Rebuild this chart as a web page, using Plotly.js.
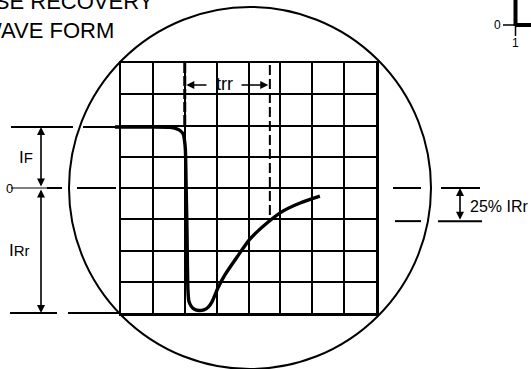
<!DOCTYPE html>
<html>
<head>
<meta charset="utf-8">
<script src="https://cdn.plot.ly/plotly-3.0.1.min.js"></script>
<style>html,body{margin:0;padding:0;background:#fff}#chart{width:531px;height:369px}</style>
</head>
<body>
<div id="chart"></div>
<script>
// ---- data (time and current in screen divisions) ----
const waveT = [-0.19, 0.91, 1.54, 1.73, 1.85, 1.95, 1.99, 2.02, 2.04, 2.07, 2.10, 2.13, 2.20, 2.29, 2.45, 2.60, 2.73, 2.85, 3.04, 3.26, 3.64, 4.05, 4.58, 5.08, 5.62, 6.24];
const waveI = [1.95, 1.95, 1.94, 1.90, 1.84, 1.73, 1.54, 1.22, 0.26, -1.34, -3.26, -3.62, -3.78, -3.87, -3.92, -3.90, -3.82, -3.65, -3.20, -2.78, -2.21, -1.63, -1.12, -0.74, -0.48, -0.26];
const levelIF = 1.95;      // forward current level
const levelIRr = -4.0;     // peak reverse current level
const level25 = -1.06;     // 25% IRr level
const trrStart = 2.0;
const trrEnd = 4.67;
const titleLines = ["REVERSE RECOVERY", "WAVE FORM"];
const labelIF = "I<span style='font-size:15px'>F</span>";
const labelIRr = "I<span style='font-size:15px'>Rr</span>";
const label25 = "25% IRr";
const labelTrr = "trr";

// ---- layout helpers (pixel -> division units) ----
const W = 531, H = 369;
const GX0 = 121, GX1 = 376, GY0 = 63, GY1 = 313;
const sx = (GX1 - GX0) / 8, sy = (GY1 - GY0) / 8;
const Y0PIX = GY0 + 4 * sy;
const X = p => (p - GX0) / sx;
const Y = q => (Y0PIX - q) / sy;

const FONT = "Liberation Sans, Arial, Helvetica, sans-serif";
const black = "#000";

const traces = [
  { x: [trrEnd, trrEnd], y: [Y(65), level25 + 0.1], xaxis: "x", yaxis: "y", mode: "lines",
    line: { color: black, width: 2, dash: "10px,4px" }, hoverinfo: "skip", showlegend: false },
  { x: [trrStart, trrStart], y: [4, levelIF], xaxis: "x", yaxis: "y", mode: "lines",
    line: { color: black, width: 3, dash: "10px,3px" }, hoverinfo: "skip", showlegend: false },
  { x: waveT, y: waveI, xaxis: "x2", yaxis: "y2", mode: "lines",
    line: { color: black, width: 3.4, shape: "spline", smoothing: 0.7 }, hoverinfo: "skip", showlegend: false }
];

function hline(y, p0, p1, w) {
  return { type: "line", xref: "x2", yref: "y2", x0: X(p0), x1: X(p1), y0: y, y1: y,
           line: { color: black, width: w || 2 } };
}
function vline(x, q0, q1, w) {
  return { type: "line", xref: "x2", yref: "y2", x0: x, x1: x, y0: Y(q0), y1: Y(q1),
           line: { color: black, width: w || 2 } };
}

const shapes = [
  { type: "circle", xref: "x2", yref: "y2", x0: X(250 - 181), x1: X(250 + 181), y0: Y(188 + 181), y1: Y(188 - 181),
    line: { color: black, width: 2 } },
  hline(levelIF, 11, 73), hline(levelIF, 83, 116),
  hline(0, 11, 47, 1.2), hline(0, 47, 62), hline(0, 77, 116),
  hline(levelIRr, 10, 57), hline(levelIRr, 68, 121),
  hline(0, 393, 421), hline(0, 441, 480),
  hline(level25, 395, 421), hline(level25, 438, 482),
  // fragment of neighbouring figure (top right)
  vline(X(515.5), -5, 26, 4),
  hline(Y(25), 515, 540, 4),
  hline(Y(25), 503, 515, 1.5),
  vline(X(515.5), 26, 36, 1.5)
];

function arrow(x, y, ax, ay, both) {
  return { xref: "x2", yref: "y2", axref: "x2", ayref: "y2", x: x, y: y, ax: ax, ay: ay, text: "",
           showarrow: true, arrowhead: 2, arrowsize: 1, arrowwidth: 1.6, arrowcolor: black,
           arrowside: both ? "end+start" : "end", standoff: 0, startstandoff: 0 };
}
function label(text, x, y, size, xanchor) {
  return { xref: "x2", yref: "y2", x: x, y: y, text: text, showarrow: false,
           xanchor: xanchor || "left", yanchor: "middle", font: { family: FONT, size: size, color: black } };
}

const annotations = [
  label(titleLines[0], X(156), Y(1.5), 22, "right"),
  label(titleLines[1], X(116), Y(30), 22, "right"),
  arrow(X(41), levelIF, X(41), 0, true),
  arrow(X(41), levelIRr, X(41), 0, true),
  label(labelIF, X(17), Y(157), 17),
  label(labelIRr, X(7), Y(250), 17),
  label("0", X(4), 0, 13),
  arrow(trrStart + 0.05, Y(85), X(208), Y(85), false),
  arrow(trrEnd - 0.05, Y(85), X(240), Y(85), false),
  label(labelTrr, X(224), Y(84), 18, "center"),
  arrow(X(460), 0, X(460), level25, true),
  label(label25, X(468), Y(206), 16),
  label("0", X(492), Y(25), 12),
  label("1", X(515), Y(43), 12, "center")
];

const layout = {
  width: W, height: H,
  margin: { l: 0, r: 0, t: 0, b: 0, pad: 0 },
  paper_bgcolor: "#fff", plot_bgcolor: "rgba(0,0,0,0)",
  showlegend: false,
  xaxis: { domain: [GX0 / W, GX1 / W], range: [0, 8], anchor: "y", dtick: 1, tick0: 0,
           showgrid: true, gridcolor: black, gridwidth: 2, showline: true, mirror: true,
           linecolor: black, linewidth: 2.5, zeroline: false, showticklabels: false, ticks: "", fixedrange: true },
  yaxis: { domain: [1 - GY1 / H, 1 - GY0 / H], range: [-4, 4], anchor: "x", dtick: 1, tick0: 0,
           showgrid: true, gridcolor: black, gridwidth: 2, showline: true, mirror: true,
           linecolor: black, linewidth: 2.5, zeroline: false, showticklabels: false, ticks: "", fixedrange: true },
  xaxis2: { domain: [0, 1], range: [X(0), X(W)], anchor: "y2", visible: false, fixedrange: true },
  yaxis2: { domain: [0, 1], range: [Y(H), Y(0)], anchor: "x2", visible: false, fixedrange: true },
  shapes: shapes,
  annotations: annotations,
  font: { family: FONT, color: black }
};

Plotly.newPlot("chart", traces, layout, { staticPlot: true, displayModeBar: false });
</script>
</body>
</html>
